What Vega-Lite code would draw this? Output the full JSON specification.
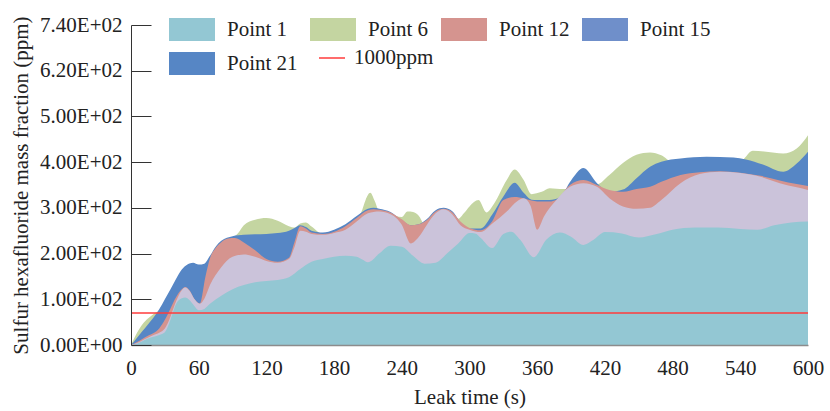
{
  "$schema": "https://vega.github.io/schema/vega-lite/v6.json",
  "autosize": {"type": "none"},
  "width": 677,
  "height": 320,
  "padding": {"left": 131, "top": 25, "right": 22, "bottom": 66},
  "background": "white",
  "config": {
    "view": {"stroke": null},
    "font": "Liberation Serif, Times New Roman, serif",
    "axis": {"labelFont": "Liberation Serif, Times New Roman, serif", "titleFont": "Liberation Serif, Times New Roman, serif", "labelFontSize": 21, "titleFontSize": 21, "labelColor": "#222", "titleColor": "#222", "titleFontWeight": "normal", "grid": false},
    "legend": {"labelFont": "Liberation Serif, Times New Roman, serif", "labelFontSize": 21, "labelColor": "#222"}
  },
  "data": {"values": [
    {"series":"Point 1","t":0,"v":0},{"series":"Point 1","t":5,"v":3},{"series":"Point 1","t":10,"v":8},{"series":"Point 1","t":15,"v":14},{"series":"Point 1","t":20,"v":18},{"series":"Point 1","t":25,"v":22},{"series":"Point 1","t":30,"v":28},{"series":"Point 1","t":35,"v":55},{"series":"Point 1","t":40,"v":90},{"series":"Point 1","t":45,"v":102},{"series":"Point 1","t":48,"v":104},{"series":"Point 1","t":52,"v":98},{"series":"Point 1","t":56,"v":86},{"series":"Point 1","t":60,"v":76},{"series":"Point 1","t":65,"v":79},{"series":"Point 1","t":70,"v":90},{"series":"Point 1","t":80,"v":108},{"series":"Point 1","t":90,"v":122},{"series":"Point 1","t":100,"v":131},{"series":"Point 1","t":110,"v":137},{"series":"Point 1","t":120,"v":140},{"series":"Point 1","t":130,"v":142},{"series":"Point 1","t":140,"v":148},{"series":"Point 1","t":150,"v":166},{"series":"Point 1","t":160,"v":182},{"series":"Point 1","t":170,"v":188},{"series":"Point 1","t":180,"v":193},{"series":"Point 1","t":190,"v":195},{"series":"Point 1","t":200,"v":193},{"series":"Point 1","t":205,"v":187},{"series":"Point 1","t":210,"v":181},{"series":"Point 1","t":220,"v":200},{"series":"Point 1","t":230,"v":217},{"series":"Point 1","t":240,"v":215},{"series":"Point 1","t":250,"v":195},{"series":"Point 1","t":260,"v":178},{"series":"Point 1","t":270,"v":180},{"series":"Point 1","t":280,"v":200},{"series":"Point 1","t":290,"v":222},{"series":"Point 1","t":300,"v":245},{"series":"Point 1","t":305,"v":244},{"series":"Point 1","t":310,"v":234},{"series":"Point 1","t":320,"v":212},{"series":"Point 1","t":330,"v":243},{"series":"Point 1","t":337,"v":248},{"series":"Point 1","t":345,"v":230},{"series":"Point 1","t":357,"v":192},{"series":"Point 1","t":368,"v":230},{"series":"Point 1","t":380,"v":246},{"series":"Point 1","t":390,"v":237},{"series":"Point 1","t":401,"v":219},{"series":"Point 1","t":410,"v":230},{"series":"Point 1","t":420,"v":247},{"series":"Point 1","t":435,"v":244},{"series":"Point 1","t":450,"v":235},{"series":"Point 1","t":465,"v":242},{"series":"Point 1","t":480,"v":252},{"series":"Point 1","t":500,"v":257},{"series":"Point 1","t":520,"v":257},{"series":"Point 1","t":540,"v":254},{"series":"Point 1","t":555,"v":252},{"series":"Point 1","t":570,"v":262},{"series":"Point 1","t":585,"v":268},{"series":"Point 1","t":600,"v":270},

    {"series":"Point 6","t":0,"v":0},{"series":"Point 6","t":5,"v":25},{"series":"Point 6","t":10,"v":45},{"series":"Point 6","t":15,"v":58},{"series":"Point 6","t":20,"v":68},{"series":"Point 6","t":25,"v":76},{"series":"Point 6","t":30,"v":95},{"series":"Point 6","t":35,"v":115},{"series":"Point 6","t":40,"v":138},{"series":"Point 6","t":50,"v":170},{"series":"Point 6","t":60,"v":170},{"series":"Point 6","t":70,"v":188},{"series":"Point 6","t":80,"v":220},{"series":"Point 6","t":90,"v":234},{"series":"Point 6","t":95,"v":245},{"series":"Point 6","t":100,"v":262},{"series":"Point 6","t":110,"v":274},{"series":"Point 6","t":120,"v":278},{"series":"Point 6","t":130,"v":272},{"series":"Point 6","t":140,"v":260},{"series":"Point 6","t":145,"v":257},{"series":"Point 6","t":150,"v":266},{"series":"Point 6","t":155,"v":268},{"series":"Point 6","t":160,"v":259},{"series":"Point 6","t":170,"v":243},{"series":"Point 6","t":180,"v":245},{"series":"Point 6","t":190,"v":258},{"series":"Point 6","t":200,"v":275},{"series":"Point 6","t":204,"v":290},{"series":"Point 6","t":208,"v":318},{"series":"Point 6","t":212,"v":333},{"series":"Point 6","t":216,"v":315},{"series":"Point 6","t":220,"v":292},{"series":"Point 6","t":230,"v":285},{"series":"Point 6","t":240,"v":280},{"series":"Point 6","t":245,"v":292},{"series":"Point 6","t":250,"v":291},{"series":"Point 6","t":255,"v":283},{"series":"Point 6","t":260,"v":265},{"series":"Point 6","t":270,"v":285},{"series":"Point 6","t":280,"v":290},{"series":"Point 6","t":290,"v":276},{"series":"Point 6","t":295,"v":288},{"series":"Point 6","t":300,"v":303},{"series":"Point 6","t":308,"v":317},{"series":"Point 6","t":315,"v":290},{"series":"Point 6","t":322,"v":310},{"series":"Point 6","t":333,"v":361},{"series":"Point 6","t":340,"v":384},{"series":"Point 6","t":348,"v":361},{"series":"Point 6","t":355,"v":330},{"series":"Point 6","t":364,"v":335},{"series":"Point 6","t":371,"v":343},{"series":"Point 6","t":383,"v":341},{"series":"Point 6","t":392,"v":345},{"series":"Point 6","t":401,"v":370},{"series":"Point 6","t":413,"v":352},{"series":"Point 6","t":424,"v":372},{"series":"Point 6","t":436,"v":398},{"series":"Point 6","t":448,"v":416},{"series":"Point 6","t":460,"v":421},{"series":"Point 6","t":470,"v":415},{"series":"Point 6","t":480,"v":400},{"series":"Point 6","t":500,"v":400},{"series":"Point 6","t":520,"v":400},{"series":"Point 6","t":540,"v":402},{"series":"Point 6","t":551,"v":425},{"series":"Point 6","t":563,"v":423},{"series":"Point 6","t":578,"v":419},{"series":"Point 6","t":590,"v":430},{"series":"Point 6","t":600,"v":459},

    {"series":"Point 12","t":0,"v":0},{"series":"Point 12","t":5,"v":6},{"series":"Point 12","t":10,"v":13},{"series":"Point 12","t":15,"v":20},{"series":"Point 12","t":20,"v":26},{"series":"Point 12","t":25,"v":36},{"series":"Point 12","t":30,"v":55},{"series":"Point 12","t":35,"v":80},{"series":"Point 12","t":40,"v":105},{"series":"Point 12","t":45,"v":122},{"series":"Point 12","t":48,"v":127},{"series":"Point 12","t":52,"v":119},{"series":"Point 12","t":56,"v":101},{"series":"Point 12","t":61,"v":91},{"series":"Point 12","t":66,"v":150},{"series":"Point 12","t":70,"v":190},{"series":"Point 12","t":75,"v":212},{"series":"Point 12","t":80,"v":225},{"series":"Point 12","t":86,"v":233},{"series":"Point 12","t":92,"v":234},{"series":"Point 12","t":100,"v":224},{"series":"Point 12","t":110,"v":207},{"series":"Point 12","t":120,"v":188},{"series":"Point 12","t":130,"v":182},{"series":"Point 12","t":140,"v":191},{"series":"Point 12","t":145,"v":226},{"series":"Point 12","t":150,"v":260},{"series":"Point 12","t":155,"v":255},{"series":"Point 12","t":160,"v":246},{"series":"Point 12","t":170,"v":243},{"series":"Point 12","t":180,"v":248},{"series":"Point 12","t":190,"v":260},{"series":"Point 12","t":200,"v":278},{"series":"Point 12","t":210,"v":295},{"series":"Point 12","t":215,"v":297},{"series":"Point 12","t":220,"v":296},{"series":"Point 12","t":230,"v":290},{"series":"Point 12","t":240,"v":275},{"series":"Point 12","t":248,"v":262},{"series":"Point 12","t":255,"v":264},{"series":"Point 12","t":262,"v":273},{"series":"Point 12","t":270,"v":292},{"series":"Point 12","t":277,"v":298},{"series":"Point 12","t":285,"v":290},{"series":"Point 12","t":292,"v":270},{"series":"Point 12","t":300,"v":256},{"series":"Point 12","t":310,"v":251},{"series":"Point 12","t":320,"v":270},{"series":"Point 12","t":330,"v":317},{"series":"Point 12","t":340,"v":324},{"series":"Point 12","t":348,"v":321},{"series":"Point 12","t":355,"v":316},{"series":"Point 12","t":360,"v":314},{"series":"Point 12","t":371,"v":314},{"series":"Point 12","t":377,"v":318},{"series":"Point 12","t":389,"v":350},{"series":"Point 12","t":401,"v":361},{"series":"Point 12","t":413,"v":350},{"series":"Point 12","t":424,"v":339},{"series":"Point 12","t":436,"v":335},{"series":"Point 12","t":448,"v":341},{"series":"Point 12","t":460,"v":346},{"series":"Point 12","t":470,"v":357},{"series":"Point 12","t":487,"v":372},{"series":"Point 12","t":504,"v":378},{"series":"Point 12","t":522,"v":380},{"series":"Point 12","t":540,"v":377},{"series":"Point 12","t":558,"v":370},{"series":"Point 12","t":575,"v":360},{"series":"Point 12","t":590,"v":352},{"series":"Point 12","t":600,"v":348},

    {"series":"Point 15","t":0,"v":0},{"series":"Point 15","t":5,"v":4},{"series":"Point 15","t":10,"v":10},{"series":"Point 15","t":15,"v":16},{"series":"Point 15","t":20,"v":22},{"series":"Point 15","t":25,"v":27},{"series":"Point 15","t":30,"v":36},{"series":"Point 15","t":35,"v":62},{"series":"Point 15","t":40,"v":96},{"series":"Point 15","t":45,"v":120},{"series":"Point 15","t":48,"v":126},{"series":"Point 15","t":52,"v":118},{"series":"Point 15","t":56,"v":101},{"series":"Point 15","t":61,"v":90},{"series":"Point 15","t":65,"v":101},{"series":"Point 15","t":70,"v":131},{"series":"Point 15","t":80,"v":170},{"series":"Point 15","t":90,"v":193},{"series":"Point 15","t":100,"v":198},{"series":"Point 15","t":110,"v":193},{"series":"Point 15","t":120,"v":184},{"series":"Point 15","t":130,"v":180},{"series":"Point 15","t":140,"v":188},{"series":"Point 15","t":145,"v":215},{"series":"Point 15","t":150,"v":250},{"series":"Point 15","t":155,"v":248},{"series":"Point 15","t":160,"v":243},{"series":"Point 15","t":170,"v":241},{"series":"Point 15","t":180,"v":245},{"series":"Point 15","t":190,"v":252},{"series":"Point 15","t":200,"v":270},{"series":"Point 15","t":210,"v":288},{"series":"Point 15","t":220,"v":292},{"series":"Point 15","t":230,"v":286},{"series":"Point 15","t":240,"v":263},{"series":"Point 15","t":248,"v":222},{"series":"Point 15","t":255,"v":236},{"series":"Point 15","t":262,"v":262},{"series":"Point 15","t":270,"v":288},{"series":"Point 15","t":277,"v":297},{"series":"Point 15","t":285,"v":285},{"series":"Point 15","t":292,"v":262},{"series":"Point 15","t":300,"v":252},{"series":"Point 15","t":310,"v":247},{"series":"Point 15","t":320,"v":265},{"series":"Point 15","t":333,"v":292},{"series":"Point 15","t":342,"v":314},{"series":"Point 15","t":348,"v":321},{"series":"Point 15","t":354,"v":305},{"series":"Point 15","t":360,"v":252},{"series":"Point 15","t":366,"v":281},{"series":"Point 15","t":377,"v":317},{"series":"Point 15","t":389,"v":346},{"series":"Point 15","t":401,"v":354},{"series":"Point 15","t":413,"v":346},{"series":"Point 15","t":424,"v":321},{"series":"Point 15","t":436,"v":303},{"series":"Point 15","t":448,"v":298},{"series":"Point 15","t":460,"v":300},{"series":"Point 15","t":470,"v":317},{"series":"Point 15","t":487,"v":354},{"series":"Point 15","t":504,"v":374},{"series":"Point 15","t":522,"v":379},{"series":"Point 15","t":540,"v":376},{"series":"Point 15","t":558,"v":368},{"series":"Point 15","t":575,"v":354},{"series":"Point 15","t":590,"v":345},{"series":"Point 15","t":600,"v":339},

    {"series":"Point 21","t":0,"v":0},{"series":"Point 21","t":5,"v":15},{"series":"Point 21","t":10,"v":30},{"series":"Point 21","t":15,"v":45},{"series":"Point 21","t":20,"v":60},{"series":"Point 21","t":25,"v":78},{"series":"Point 21","t":30,"v":100},{"series":"Point 21","t":35,"v":122},{"series":"Point 21","t":40,"v":145},{"series":"Point 21","t":45,"v":165},{"series":"Point 21","t":50,"v":176},{"series":"Point 21","t":55,"v":180},{"series":"Point 21","t":60,"v":176},{"series":"Point 21","t":65,"v":178},{"series":"Point 21","t":70,"v":195},{"series":"Point 21","t":75,"v":215},{"series":"Point 21","t":80,"v":228},{"series":"Point 21","t":90,"v":238},{"series":"Point 21","t":100,"v":241},{"series":"Point 21","t":110,"v":242},{"series":"Point 21","t":120,"v":243},{"series":"Point 21","t":130,"v":245},{"series":"Point 21","t":140,"v":250},{"series":"Point 21","t":145,"v":256},{"series":"Point 21","t":150,"v":262},{"series":"Point 21","t":155,"v":258},{"series":"Point 21","t":160,"v":250},{"series":"Point 21","t":170,"v":246},{"series":"Point 21","t":180,"v":252},{"series":"Point 21","t":190,"v":264},{"series":"Point 21","t":200,"v":282},{"series":"Point 21","t":210,"v":298},{"series":"Point 21","t":215,"v":300},{"series":"Point 21","t":220,"v":298},{"series":"Point 21","t":230,"v":291},{"series":"Point 21","t":240,"v":273},{"series":"Point 21","t":248,"v":262},{"series":"Point 21","t":255,"v":264},{"series":"Point 21","t":262,"v":275},{"series":"Point 21","t":270,"v":295},{"series":"Point 21","t":277,"v":300},{"series":"Point 21","t":285,"v":292},{"series":"Point 21","t":292,"v":268},{"series":"Point 21","t":300,"v":255},{"series":"Point 21","t":310,"v":255},{"series":"Point 21","t":320,"v":285},{"series":"Point 21","t":330,"v":325},{"series":"Point 21","t":340,"v":355},{"series":"Point 21","t":348,"v":333},{"series":"Point 21","t":355,"v":318},{"series":"Point 21","t":360,"v":317},{"series":"Point 21","t":371,"v":317},{"series":"Point 21","t":380,"v":323},{"series":"Point 21","t":390,"v":360},{"series":"Point 21","t":401,"v":387},{"series":"Point 21","t":413,"v":354},{"series":"Point 21","t":424,"v":335},{"series":"Point 21","t":436,"v":340},{"series":"Point 21","t":448,"v":365},{"series":"Point 21","t":460,"v":390},{"series":"Point 21","t":470,"v":401},{"series":"Point 21","t":487,"v":408},{"series":"Point 21","t":510,"v":412},{"series":"Point 21","t":534,"v":410},{"series":"Point 21","t":545,"v":406},{"series":"Point 21","t":560,"v":395},{"series":"Point 21","t":578,"v":379},{"series":"Point 21","t":590,"v":397},{"series":"Point 21","t":600,"v":423}
  ]},
  "encoding": {
    "x": {"field": "t", "type": "quantitative", "scale": {"domain": [0, 600], "nice": false},
      "axis": {"title": "Leak time (s)", "values": [0,60,120,180,240,300,360,420,480,540,600], "labelFlush": false, "labelOverlap": false, "domainColor": "#8c8c8c", "domainWidth": 1.5, "ticks": false, "labelPadding": 12, "titlePadding": 8, "zindex": 1}},
    "y": {"field": "v", "type": "quantitative", "scale": {"domain": [0, 700], "nice": false},
      "axis": {"title": "Sulfur hexafluoride mass fraction (ppm)", "values": [0,100,200,300,400,500,600,700],
        "labelExpr": "datum.value == 0 ? '0.00E+00' : datum.value == 600 ? '6.20E+02' : datum.value == 700 ? '7.40E+02' : format(datum.value/100, '.2f') + 'E+02'",
        "labelFlush": false, "domainColor": "#333", "tickColor": "#333", "tickSize": -20, "labelPadding": 29, "titlePadding": 8, "zindex": 1}}
  },
  "layer": [
    {"transform": [{"filter": "datum.series == 'Point 6'"}], "mark": {"type": "area", "interpolate": "monotone", "opacity": 1},
      "encoding": {"color": {"field": "series", "type": "nominal", "sort": ["Point 1", "Point 6", "Point 12", "Point 15", "Point 21"],
        "scale": {"domain": ["Point 1", "Point 6", "Point 12", "Point 15", "Point 21"], "range": ["#93c7d3", "#c4d5a1", "#d5948f", "#6f8fca", "#5686c5"]},
        "legend": {"title": null, "orient": "none", "legendX": 38, "legendY": -7, "direction": "horizontal", "columns": 4, "columnPadding": 12, "rowPadding": 11,
          "symbolType": "M-1,-1H3V1H-1Z", "symbolSize": 529, "symbolStrokeWidth": 0, "labelOffset": 35, "labelFontSize": 21}}}},
    {"transform": [{"filter": "datum.series == 'Point 21'"}], "mark": {"type": "area", "interpolate": "monotone", "opacity": 1},
      "encoding": {"color": {"field": "series", "type": "nominal", "sort": ["Point 1", "Point 6", "Point 12", "Point 15", "Point 21"],
        "scale": {"domain": ["Point 1", "Point 6", "Point 12", "Point 15", "Point 21"], "range": ["#93c7d3", "#c4d5a1", "#d5948f", "#6f8fca", "#5686c5"]}}}},
    {"transform": [{"filter": "datum.series == 'Point 12'"}], "mark": {"type": "area", "interpolate": "monotone", "opacity": 1},
      "encoding": {"color": {"field": "series", "type": "nominal", "sort": ["Point 1", "Point 6", "Point 12", "Point 15", "Point 21"],
        "scale": {"domain": ["Point 1", "Point 6", "Point 12", "Point 15", "Point 21"], "range": ["#93c7d3", "#c4d5a1", "#d5948f", "#6f8fca", "#5686c5"]}}}},
    {"transform": [{"filter": "datum.series == 'Point 15'"}], "mark": {"type": "area", "interpolate": "monotone", "opacity": 1},
      "encoding": {"color": {"value": "#cbc3da"}}},
    {"transform": [{"filter": "datum.series == 'Point 1'"}], "mark": {"type": "area", "interpolate": "monotone", "opacity": 1},
      "encoding": {"color": {"field": "series", "type": "nominal", "sort": ["Point 1", "Point 6", "Point 12", "Point 15", "Point 21"],
        "scale": {"domain": ["Point 1", "Point 6", "Point 12", "Point 15", "Point 21"], "range": ["#93c7d3", "#c4d5a1", "#d5948f", "#6f8fca", "#5686c5"]}}}},
    {"data": {"values": [{"limit": 70, "label": "1000ppm"}]},
      "mark": {"type": "rule", "strokeWidth": 1.5},
      "encoding": {"x": null, "y": {"field": "limit", "type": "quantitative"},
        "stroke": {"field": "label", "type": "nominal", "scale": {"range": ["#ff3b3b"]},
          "legend": {"title": null, "orient": "none", "legendX": 187, "legendY": 19, "symbolType": "stroke", "symbolSize": 676, "symbolStrokeWidth": 1.5, "labelOffset": 8, "labelFontSize": 21}}}}
  ]
}
